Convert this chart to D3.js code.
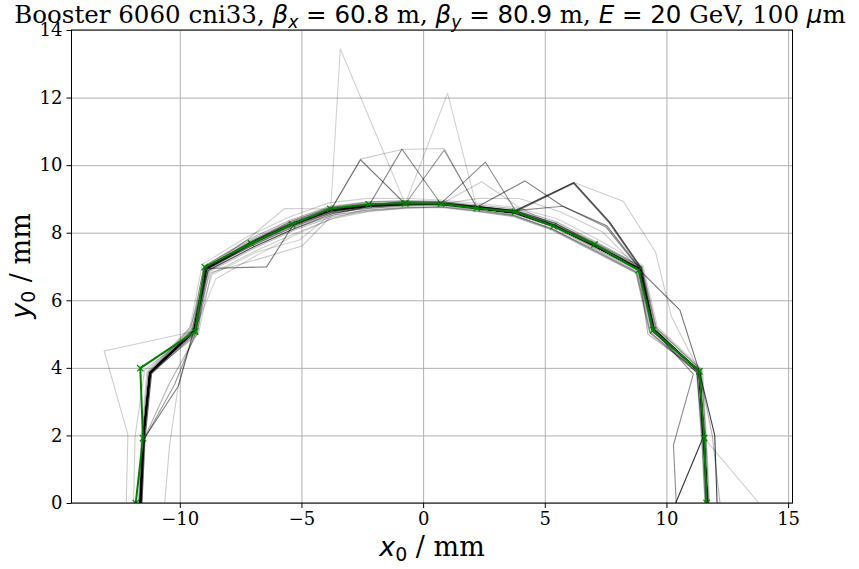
<!DOCTYPE html>
<html><head><meta charset="utf-8">
<script src="https://cdn.jsdelivr.net/npm/d3@7/dist/d3.min.js"></script>
<style>body{margin:0;background:#fff}</style>
</head><body>
<svg id="c" width="859" height="569"></svg>
<script>
// Ray angles (degrees) of the scan directions
const rayAngleDeg = [180, 170.53, 161.05, 151.58, 142.11, 132.63, 123.16, 113.68, 104.21, 94.74,
                     85.26, 75.79, 66.32, 56.84, 47.37, 37.89, 28.42, 18.95, 9.47, 0];
// Highlighted (green) series: amplitude radius along each ray, mm
const refRadius = [11.81, 11.67, 12.29, 10.66, 11.37, 10.44, 9.85, 9.51, 9.12, 8.90,
                   8.89, 9.00, 9.41, 9.79, 10.40, 11.22, 10.75, 12.00, 11.71, 11.65];
// Individual seeds (grey lines): radius along each ray, mm
const seed01 = [11.62,11.66,11.87,10.70,11.30,10.45,9.86,9.46,9.08,8.88,8.88,9.00,9.38,9.80,10.36,11.25,10.76,12.00,11.70,11.68];
const seed02 = [11.60,11.64,11.85,10.66,11.28,10.40,9.82,9.42,9.05,8.86,8.90,9.02,9.40,9.82,10.40,11.30,10.80,11.98,11.72,11.66];
const seed03 = [11.64,11.68,11.90,10.74,11.36,10.50,9.90,9.50,9.12,8.92,8.86,8.98,9.35,9.76,10.30,11.20,10.72,12.02,11.68,11.70];
const seed04 = [11.58,11.62,11.84,10.62,11.30,10.36,9.78,9.40,9.10,8.95,8.95,9.05,9.45,9.88,10.45,11.36,10.85,11.95,11.75,11.64];
const seed05 = [11.62,11.70,11.88,10.80,11.25,10.48,9.95,9.55,9.15,8.90,8.84,8.96,9.30,9.70,10.25,11.15,10.68,12.05,11.66,11.72];
const seed06 = [11.62,11.66,11.86,10.70,11.30,10.44,9.85,9.45,9.08,8.88,8.88,9.00,9.38,9.80,10.35,11.25,10.75,12.00,11.65,10.38];
const seed07 = [11.60,11.62,10.64,10.72,11.20,10.30,9.70,9.35,9.05,8.85,8.88,9.02,9.42,9.85,10.40,11.28,10.78,11.98,11.68,11.66];
const seed08 = [11.66,11.60,10.80,10.62,11.26,10.36,9.75,9.38,9.00,8.82,8.86,9.04,9.44,9.90,10.42,11.32,10.80,12.02,11.70,11.70];
const seed09 = [11.62,11.66,11.88,10.70,11.30,10.45,9.86,9.46,9.08,8.88,8.88,9.00,9.40,9.82,10.38,11.28,10.78,12.00,12.15,12.08];
const seed10 = [11.62,11.66,11.87,10.70,11.30,10.45,9.86,9.46,9.08,8.88,8.90,9.05,9.45,11.33,11.31,11.35,10.80,11.98,11.70,11.68];
const seed11 = [11.60,11.64,11.85,10.68,11.28,10.42,9.84,9.44,9.06,8.86,8.88,9.02,9.42,11.30,11.28,11.32,10.78,12.00,11.68,11.66];
const seed12 = [11.64,11.66,11.88,10.72,11.32,10.46,9.88,9.48,9.10,8.90,8.90,9.04,10.41,10.49,11.15,11.30,10.80,12.02,11.70,11.70];
const seed13 = [11.62,11.66,11.86,10.70,11.30,10.44,9.86,9.46,9.08,8.88,8.90,10.41,9.45,10.49,11.10,11.28,10.78,12.00,11.70,11.68];
const seed14 = [11.62,11.64,11.86,10.68,11.30,10.44,9.86,9.46,9.08,8.88,10.48,9.02,9.40,9.82,10.38,11.26,10.76,12.00,11.70,11.68];
const seed15 = [11.60,11.66,11.88,10.70,11.30,10.45,9.86,9.46,9.08,10.51,8.88,9.00,9.38,9.80,10.36,11.25,10.76,12.00,11.70,11.66];
const seed16 = [11.62,11.66,11.87,10.70,11.30,10.45,9.86,9.46,10.48,8.88,8.88,9.00,9.38,9.80,10.36,11.25,10.76,12.00,11.70,11.68];
const seed17 = [11.62,11.66,11.87,10.70,11.30,10.45,9.86,9.46,13.87,8.88,8.88,9.00,9.38,9.80,10.36,11.25,10.76,12.00,11.70,11.68];
const seed18 = [11.62,11.66,11.87,10.70,11.30,10.45,9.86,9.46,9.08,8.88,12.17,9.00,9.38,9.80,10.36,11.25,10.76,12.00,11.70,11.68];
const seed19 = [11.62,11.66,11.87,10.70,11.30,10.45,9.86,9.46,10.50,10.50,10.53,9.00,9.38,9.80,10.36,11.25,10.76,12.00,11.70,11.68];
const seed20 = [11.62,11.66,11.87,10.70,11.30,10.45,9.86,9.46,9.08,8.88,8.88,9.00,9.38,9.80,10.36,11.25,12.00,12.00,11.70,11.68];
const seed21 = [11.62,11.66,11.87,10.70,11.30,10.45,9.86,9.46,9.08,8.88,8.88,9.00,9.38,11.33,12.14,12.10,11.60,12.00,11.70,11.68];
const seed22 = [11.62,11.66,11.87,10.70,11.30,10.45,9.86,9.46,9.08,8.88,8.88,9.00,9.38,9.80,10.36,11.25,10.76,11.74,10.43,10.40];
const seed23 = [11.62,11.66,11.87,10.70,11.30,10.45,9.86,9.46,9.08,8.88,8.88,9.00,9.38,9.80,10.36,11.25,10.76,12.00,11.70,13.80];
const seed24 = [12.20,12.30,13.86,10.68,11.30,10.45,9.86,9.46,9.08,8.88,8.88,9.00,9.38,9.80,10.36,11.25,10.76,12.00,11.70,11.68];
const seed25 = [10.62,10.56,10.64,10.70,11.30,10.45,9.86,9.46,9.08,8.88,8.88,9.00,9.38,9.80,10.36,11.25,10.76,12.00,11.70,11.68];
const seed26 = [11.62,11.66,11.87,10.70,11.10,9.84,9.09,9.30,9.08,8.88,8.88,9.00,9.38,9.80,10.36,11.25,10.76,12.00,11.70,11.68];
const seed27 = [11.62,11.66,11.87,10.70,11.30,9.50,9.80,9.46,9.08,8.88,8.88,9.00,9.38,9.80,10.36,11.25,10.76,12.00,11.70,11.68];
const seed28 = [11.62,11.66,11.87,10.70,11.30,10.62,10.41,9.50,9.08,8.88,8.88,9.00,9.38,9.80,10.36,11.25,10.76,12.00,11.70,11.68];
const seed29 = [11.62,11.66,11.87,10.90,11.18,10.45,9.86,9.46,9.08,8.88,8.88,9.00,9.38,9.80,10.36,11.25,10.76,12.00,11.70,11.68];
const seed30 = [11.62,11.66,11.87,10.70,11.30,10.45,9.86,9.46,9.08,8.88,8.88,9.30,9.84,10.30,10.90,11.25,10.76,12.00,11.70,11.68];
const seed31 = [11.62,11.66,11.87,10.70,11.30,10.45,9.86,9.46,9.08,8.88,8.88,9.81,9.60,9.80,10.36,11.25,10.76,12.00,11.70,11.68];
const seed32 = [11.90,12.00,12.10,10.70,11.30,10.45,9.86,9.46,9.08,8.88,8.88,9.00,9.38,9.80,10.36,11.25,10.76,12.00,11.70,11.68];
const seed33 = [11.62,11.66,11.87,10.70,11.30,10.45,9.86,9.46,9.08,8.88,8.88,9.00,9.38,9.80,10.36,11.25,10.50,12.00,12.05,12.20];
const seed34 = [11.55,11.60,11.80,10.60,11.20,10.30,9.70,9.30,8.95,8.78,8.80,8.92,9.28,9.68,10.22,11.12,10.62,11.90,11.62,11.60];
const seed35 = [11.68,11.72,11.95,10.85,11.40,10.60,10.00,9.58,9.20,8.98,8.96,9.10,9.50,9.95,10.50,11.40,10.90,12.10,11.78,11.74];
const seed36 = [11.58,11.64,11.82,10.55,11.15,10.25,9.65,9.25,8.92,8.76,8.78,8.90,9.25,9.65,10.18,11.08,10.58,11.88,11.60,11.58];
const seed37 = [11.66,11.70,11.92,10.78,11.42,10.55,9.95,9.55,9.18,8.96,8.92,9.06,9.46,9.90,10.46,11.38,10.88,12.08,11.76,11.72];
const seed38 = [11.60,11.66,11.86,10.50,11.05,10.15,9.55,9.20,8.90,8.75,8.80,8.95,9.30,9.70,10.20,11.10,10.60,11.92,11.64,11.62];
const seed39 = [11.64,11.62,11.00,10.55,11.25,10.40,9.80,9.40,9.05,8.86,8.86,9.00,9.36,9.78,10.34,11.22,10.70,11.96,11.68,11.66];
const seed40 = [11.70,11.75,12.00,10.90,11.50,10.70,10.10,9.70,9.30,9.05,9.00,9.15,9.55,10.05,10.60,11.45,10.95,12.15,11.80,11.78];
const seed41 = [11.56,11.58,11.80,10.75,11.35,10.50,9.92,9.52,9.12,8.92,8.92,9.06,9.42,9.85,10.42,11.30,10.70,11.90,11.66,11.64];
const seed42 = [11.63,11.67,11.88,10.68,11.32,10.47,9.87,9.47,9.09,8.89,8.87,8.99,9.37,9.79,10.37,11.24,10.77,12.01,11.69,11.67];
const seed43 = [11.62,11.66,11.87,10.70,10.80,10.00,9.50,9.20,9.00,8.85,8.88,9.00,9.38,9.80,10.36,11.25,10.76,12.00,11.70,11.68];
const seed44 = [11.62,11.66,11.87,10.65,11.00,10.10,9.30,9.35,9.02,8.86,8.88,9.00,9.38,9.80,10.36,11.25,10.76,12.00,11.70,11.68];
const seedRadii = [seed01,seed02,seed03,seed04,seed05,seed06,seed07,seed08,seed09,seed10,seed11,
                   seed12,seed13,seed14,seed15,seed16,seed17,seed18,seed19,seed20,seed21,seed22,
                   seed23,seed24,seed25,seed26,seed27,seed28,seed29,seed30,seed31,seed32,seed33,
                   seed34,seed35,seed36,seed37,seed38,seed39,seed40,seed41,seed42,seed43,seed44];
const seedAlpha = [0.55,0.45,0.4,0.35,0.3,0.8,0.5,0.4,0.75,0.7,0.55,0.5,0.45,0.4,0.45,0.5,0.18,0.18,0.2,
                   0.55,0.2,0.45,0.2,0.2,0.2,0.22,0.5,0.2,0.2,0.2,0.2,0.2,0.3,
                   0.35,0.3,0.25,0.3,0.2,0.3,0.18,0.4,0.5,0.18,0.18];
const xTicks = [-10, -5, 0, 5, 10, 15];
const yTicks = [0, 2, 4, 6, 8, 10, 12, 14];
const xDomain = [-14.45, 15.18];
const yDomain = [0, 14];

const SERIF = "'DejaVu Serif', serif";
const SANS = "'DejaVu Sans', sans-serif";
const box = {l: 71.5, r: 792.5, t: 30, b: 503};
const svg = d3.select('#c');
const x = d3.scaleLinear().domain(xDomain).range([box.l, box.r]);
const y = d3.scaleLinear().domain(yDomain).range([box.b, box.t]);
const fmt = d => d < 0 ? '\u2212' + Math.abs(d) : String(d);

// grid
svg.append('g').attr('transform', `translate(0,${box.b})`)
  .call(d3.axisBottom(x).tickValues(xTicks).tickSize(-(box.b - box.t)).tickFormat(''))
  .call(g => { g.select('.domain').remove(); g.selectAll('line').attr('stroke', '#b0b0b0').attr('stroke-width', 1); });
svg.append('g').attr('transform', `translate(${box.l},0)`)
  .call(d3.axisLeft(y).tickValues(yTicks).tickSize(-(box.r - box.l)).tickFormat(''))
  .call(g => { g.select('.domain').remove(); g.selectAll('line').attr('stroke', '#b0b0b0').attr('stroke-width', 1); });

svg.append('clipPath').attr('id', 'clip').append('rect')
  .attr('x', box.l).attr('y', box.t).attr('width', box.r - box.l).attr('height', box.b - box.t);

const toRad = a => a * Math.PI / 180;
const line = d3.line()
  .x((r, i) => x(r * Math.cos(toRad(rayAngleDeg[i]))))
  .y((r, i) => y(Math.max(0, r * Math.sin(toRad(rayAngleDeg[i])))));

const plot = svg.append('g').attr('clip-path', 'url(#clip)');
plot.selectAll('path.seed').data(seedRadii).join('path')
  .attr('class', 'seed').attr('d', line).attr('fill', 'none')
  .attr('stroke', '#000').attr('stroke-width', 1.1)
  .attr('stroke-opacity', (d, i) => seedAlpha[i]).attr('stroke-linejoin', 'round');

plot.append('path').datum(refRadius).attr('d', line).attr('fill', 'none')
  .attr('stroke', '#008000').attr('stroke-width', 2).attr('stroke-linejoin', 'round');
const s = 3.2;
plot.selectAll('path.mk').data(refRadius).join('path').attr('class', 'mk')
  .attr('d', (r, i) => {
    const px = x(r * Math.cos(toRad(rayAngleDeg[i])));
    const py = y(Math.max(0, r * Math.sin(toRad(rayAngleDeg[i]))));
    return `M${px - s},${py - s}L${px + s},${py + s}M${px - s},${py + s}L${px + s},${py - s}`;
  })
  .attr('stroke', '#008000').attr('stroke-width', 1.2);

// axes
svg.append('g').attr('transform', `translate(0,${box.b})`)
  .call(d3.axisBottom(x).tickValues(xTicks).tickSize(5).tickPadding(4).tickFormat(fmt))
  .call(g => { g.select('.domain').remove(); g.selectAll('line').attr('stroke', '#000');
    g.selectAll('text').attr('font-family', SERIF).attr('font-size', 18).attr('fill', '#000'); });
svg.append('g').attr('transform', `translate(${box.l},0)`)
  .call(d3.axisLeft(y).tickValues(yTicks).tickSize(5).tickPadding(4).tickFormat(fmt))
  .call(g => { g.select('.domain').remove(); g.selectAll('line').attr('stroke', '#000');
    g.selectAll('text').attr('font-family', SERIF).attr('font-size', 18).attr('fill', '#000'); });
svg.append('rect').attr('x', box.l).attr('y', box.t).attr('width', box.r - box.l).attr('height', box.b - box.t)
  .attr('fill', 'none').attr('stroke', '#000').attr('stroke-width', 1);

function mathText(t, parts, size) {
  parts.forEach(p => {
    const ts = t.append('tspan').text(p.t)
      .attr('font-family', p.f === 'serif' ? SERIF : SANS)
      .attr('font-style', p.i ? 'italic' : 'normal');
    if (p.sub) ts.attr('font-size', size * 0.7).attr('dy', size * 0.2);
    else if (p.after) ts.attr('dy', -size * 0.2);
  });
}
const title = svg.append('text').attr('x', 430).attr('y', 23).attr('text-anchor', 'middle')
  .attr('font-size', 24.5).attr('fill', '#000');
mathText(title, [
  {t: 'Booster 6060 cni33, ', f: 'serif'},
  {t: '\u03B2', f: 'sans', i: true}, {t: 'x', f: 'sans', i: true, sub: true},
  {t: ' = 60.8', f: 'sans', after: true}, {t: ' m, ', f: 'serif'},
  {t: '\u03B2', f: 'sans', i: true}, {t: 'y', f: 'sans', i: true, sub: true},
  {t: ' = 80.9', f: 'sans', after: true}, {t: ' m, ', f: 'serif'},
  {t: 'E', f: 'sans', i: true}, {t: ' = 20', f: 'sans'}, {t: ' GeV, 100 ', f: 'serif'},
  {t: '\u03BC', f: 'sans', i: true}, {t: 'm', f: 'serif'}
], 24.5);

const xl = svg.append('text').attr('x', 432).attr('y', 556).attr('text-anchor', 'middle')
  .attr('font-size', 27).attr('fill', '#000');
mathText(xl, [{t: 'x', f: 'sans', i: true}, {t: '0', f: 'sans', sub: true}, {t: ' / mm', f: 'serif', after: true}], 27);
const yl = svg.append('text').attr('transform', 'translate(30,266) rotate(-90)').attr('text-anchor', 'middle')
  .attr('font-size', 27).attr('fill', '#000');
mathText(yl, [{t: 'y', f: 'sans', i: true}, {t: '0', f: 'sans', sub: true}, {t: ' / mm', f: 'serif', after: true}], 27);
</script>
</body></html>
